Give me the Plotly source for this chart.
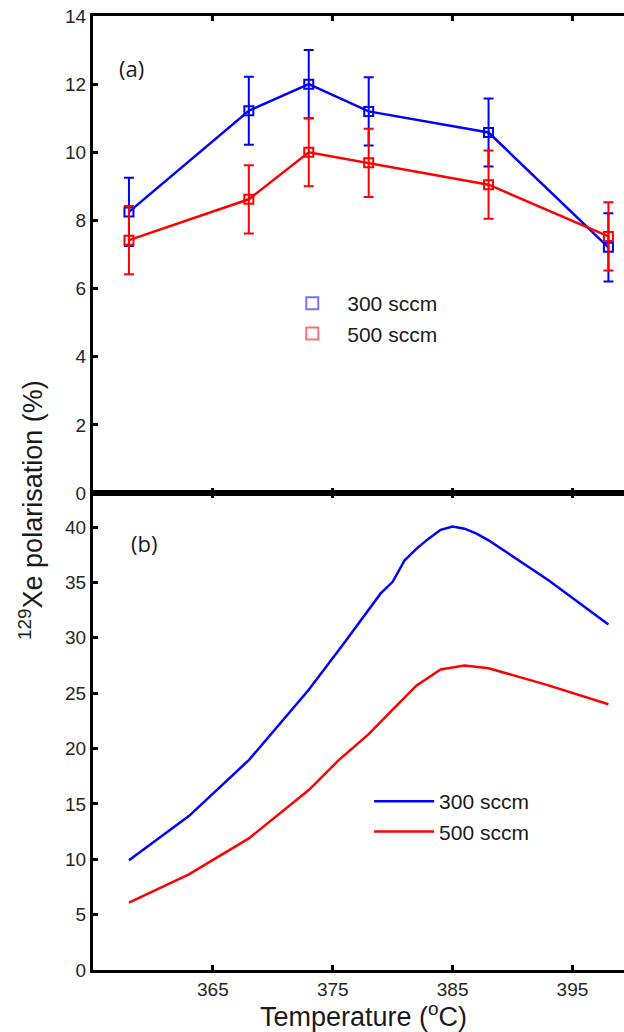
import plotly.graph_objects as go

# ---------------- data ----------------
# Panel (a): measured polarisation with error bars
temp_a = [358, 368, 373, 378, 388, 398]
pol_300_a = [8.25, 11.22, 12.0, 11.2, 10.58, 7.21]
err_300_a = [1.0, 1.0, 1.0, 1.0, 1.0, 1.0]
pol_500_a = [7.42, 8.62, 10.0, 9.69, 9.05, 7.53]
err_500_a = [1.0, 1.0, 1.0, 1.0, 1.0, 1.0]

# Panel (b): simulated polarisation curves
temp_b_300 = [358, 363, 368, 373, 376, 379, 380, 381, 382, 383, 384, 385, 386, 387, 388, 393, 398]
pol_300_b = [9.9, 13.9, 18.95, 25.3, 29.6, 34.0, 35.05, 37.0, 38.05, 38.95, 39.75, 40.05, 39.85, 39.4, 38.8, 35.2, 31.2]
temp_b_500 = [358, 363, 368, 373, 375.5, 378, 380, 382, 384, 386, 388, 393, 398]
pol_500_b = [6.08, 8.63, 11.88, 16.25, 18.95, 21.3, 23.5, 25.7, 27.13, 27.5, 27.25, 25.7, 24.0]

series_names = ["300 sccm", "500 sccm"]
x_ticks = [365, 375, 385, 395]

BLUE = "#0000ff"
RED = "#ff0000"
FONT = "Liberation Sans, Arial, sans-serif"

fig = go.Figure()

# ---- panel (a) ----
for temps, vals, errs, col in [(temp_a, pol_300_a, err_300_a, BLUE),
                               (temp_a, pol_500_a, err_500_a, RED)]:
    fig.add_trace(go.Scatter(
        x=temps, y=vals, mode="lines+markers", xaxis="x2", yaxis="y2",
        line=dict(color=col, width=2.5),
        marker=dict(symbol="square-open", size=9, color=col, line=dict(width=2, color=col)),
        error_y=dict(type="data", array=errs, visible=True, color=col, thickness=2, width=5),
        showlegend=False, hoverinfo="x+y"))

# legend entries for panel (a) (markers only)
for name, col in zip(series_names, ["rgba(0,0,255,0.55)", "rgba(255,0,0,0.55)"]):
    fig.add_trace(go.Scatter(
        x=[None], y=[None], mode="markers", xaxis="x2", yaxis="y2", name=name,
        marker=dict(symbol="square-open", size=12, color=col, line=dict(width=2, color=col)),
        legend="legend"))

# ---- panel (b) ----
fig.add_trace(go.Scatter(x=temp_b_300, y=pol_300_b, mode="lines", name=series_names[0],
                         line=dict(color=BLUE, width=2.5), legend="legend2"))
fig.add_trace(go.Scatter(x=temp_b_500, y=pol_500_b, mode="lines", name=series_names[1],
                         line=dict(color=RED, width=2.5), legend="legend2"))

axis_common = dict(showline=True, linecolor="black", linewidth=3, ticks="inside",
                   ticklen=5, tickwidth=3, tickcolor="black", showgrid=False,
                   zeroline=False, tickfont=dict(size=19, color="#262626", family=FONT))
xrange = [355, 399.3]

fig.update_layout(
    width=624, height=1032,
    margin=dict(l=93, r=0, t=16, b=62),
    paper_bgcolor="white", plot_bgcolor="white",
    font=dict(family=FONT, color="#1a1a1a"),
    xaxis=dict(domain=[0, 1], anchor="y", range=xrange, tickvals=x_ticks,
               mirror="ticks", **axis_common),
    yaxis=dict(domain=[0, 0.5], anchor="x", range=[0, 43.07], tick0=0, dtick=5,
               **axis_common),
    xaxis2=dict(domain=[0, 1], anchor="y2", range=xrange, tickvals=x_ticks,
                mirror="ticks", showticklabels=False, **axis_common),
    yaxis2=dict(domain=[0.5, 1], anchor="x2", range=[0, 14], tick0=0, dtick=2,
                **axis_common),
    legend=dict(x=0.347, y=0.72, xanchor="left", yanchor="top", bgcolor="rgba(0,0,0,0)",
                font=dict(size=21, color="#1a1a1a", family=FONT), itemwidth=60,
                tracegroupgap=0),
    legend2=dict(x=0.52, y=0.198, xanchor="left", yanchor="top", bgcolor="rgba(0,0,0,0)",
                 font=dict(size=21, color="#1a1a1a", family=FONT), itemwidth=60,
                 tracegroupgap=0),
    annotations=[
        dict(text="(a)", x=0.0716, y=0.9455, xref="paper", yref="paper", showarrow=False,
             xanchor="center", yanchor="middle", font=dict(size=22, family="Open Sans, sans-serif", color="#1a1a1a")),
        dict(text="(b)", x=0.0960, y=0.4476, xref="paper", yref="paper", showarrow=False,
             xanchor="center", yanchor="middle", font=dict(size=22, family="Open Sans, sans-serif", color="#1a1a1a")),
        dict(text="<sup>129</sup>Xe polarisation (%)", x=-0.1168, y=0.4822, xref="paper",
             yref="paper", showarrow=False, textangle=-90, xanchor="center", yanchor="middle",
             font=dict(size=27, family=FONT, color="#1a1a1a")),
        dict(text="Temperature (<sup>o</sup>C)", x=0.5085, y=-0.0472, xref="paper",
             yref="paper", showarrow=False, xanchor="center", yanchor="middle",
             font=dict(size=27, family=FONT, color="#1a1a1a")),
    ],
)

fig.write_html("out.html", config={"displayModeBar": False},
               post_script="document.body.style.margin='0';document.body.style.overflow='hidden';")
